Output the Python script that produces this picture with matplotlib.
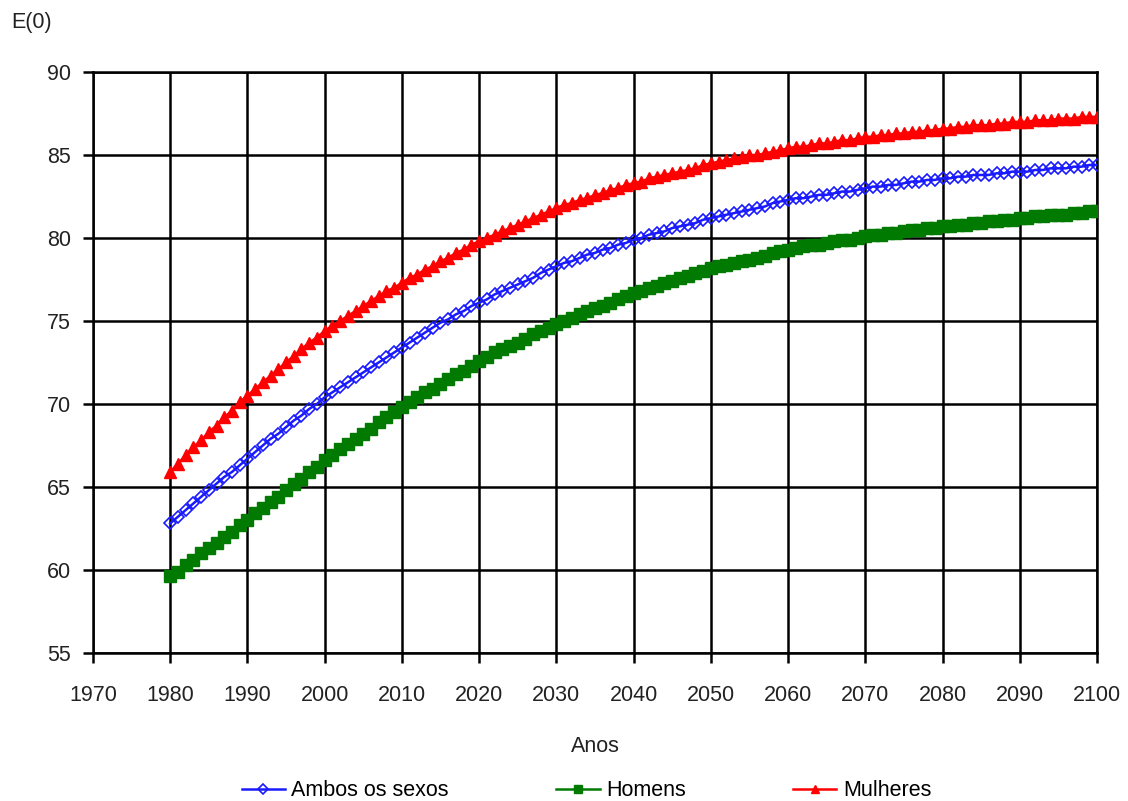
import matplotlib.pyplot as plt

# Esperança de vida ao nascer E(0), 1980-2100
anos = list(range(1980, 2101))

ambos = [62.8, 63.2, 63.6, 64.0, 64.4, 64.8, 65.2, 65.6, 65.9, 66.3,
         66.7, 67.1, 67.5, 67.9, 68.2, 68.6, 69.0, 69.3, 69.7, 70.0,
         70.4, 70.7, 71.0, 71.3, 71.6, 71.9, 72.2, 72.5, 72.8, 73.1,
         73.4, 73.7, 74.0, 74.3, 74.6, 74.9, 75.1, 75.4, 75.6, 75.9,
         76.1, 76.3, 76.6, 76.8, 77.0, 77.2, 77.4, 77.6, 77.9, 78.1,
         78.3, 78.5, 78.6, 78.8, 79.0, 79.1, 79.3, 79.4, 79.6, 79.7,
         79.9, 80.0, 80.2, 80.3, 80.4, 80.6, 80.7, 80.8, 80.9, 81.1,
         81.2, 81.3, 81.4, 81.5, 81.6, 81.7, 81.8, 81.9, 82.1, 82.2,
         82.3, 82.4, 82.4, 82.5, 82.6, 82.6, 82.7, 82.8, 82.8, 82.9,
         83.0, 83.1, 83.1, 83.2, 83.2, 83.3, 83.4, 83.4, 83.5, 83.5,
         83.6, 83.6, 83.7, 83.7, 83.8, 83.8, 83.8, 83.9, 83.9, 84.0,
         84.0, 84.0, 84.1, 84.1, 84.2, 84.2, 84.2, 84.3, 84.3, 84.4,
         84.4]

homens = [59.6, 59.9, 60.3, 60.6, 61.0, 61.3, 61.6, 62.0, 62.3, 62.7,
          63.0, 63.4, 63.7, 64.1, 64.4, 64.8, 65.2, 65.5, 65.9, 66.2,
          66.6, 66.9, 67.3, 67.6, 67.9, 68.2, 68.5, 68.9, 69.2, 69.5,
          69.8, 70.1, 70.4, 70.7, 70.9, 71.2, 71.5, 71.8, 72.0, 72.3,
          72.6, 72.8, 73.1, 73.3, 73.5, 73.7, 73.9, 74.2, 74.4, 74.6,
          74.8, 75.0, 75.2, 75.4, 75.6, 75.8, 75.9, 76.1, 76.3, 76.5,
          76.7, 76.8, 77.0, 77.1, 77.3, 77.4, 77.6, 77.7, 77.9, 78.0,
          78.2, 78.3, 78.4, 78.5, 78.6, 78.7, 78.8, 78.9, 79.1, 79.2,
          79.3, 79.4, 79.5, 79.6, 79.6, 79.7, 79.8, 79.9, 79.9, 80.0,
          80.1, 80.2, 80.2, 80.3, 80.3, 80.4, 80.5, 80.5, 80.6, 80.6,
          80.7, 80.7, 80.8, 80.8, 80.9, 80.9, 81.0, 81.0, 81.1, 81.1,
          81.2, 81.2, 81.3, 81.3, 81.4, 81.4, 81.4, 81.5, 81.5, 81.6,
          81.6]

mulheres = [65.9, 66.4, 66.9, 67.4, 67.8, 68.3, 68.7, 69.2, 69.6, 70.1,
            70.5, 70.9, 71.3, 71.7, 72.1, 72.5, 72.9, 73.3, 73.7, 74.0,
            74.4, 74.7, 75.0, 75.3, 75.6, 75.9, 76.2, 76.5, 76.8, 77.0,
            77.3, 77.6, 77.8, 78.1, 78.3, 78.6, 78.8, 79.1, 79.3, 79.6,
            79.8, 80.0, 80.2, 80.4, 80.6, 80.8, 81.0, 81.2, 81.4, 81.6,
            81.8, 82.0, 82.1, 82.3, 82.4, 82.6, 82.7, 82.9, 83.0, 83.2,
            83.3, 83.4, 83.6, 83.7, 83.8, 83.9, 84.0, 84.1, 84.2, 84.4,
            84.5, 84.6, 84.7, 84.8, 84.9, 85.0, 85.0, 85.1, 85.2, 85.3,
            85.4, 85.5, 85.5, 85.6, 85.7, 85.7, 85.8, 85.9, 85.9, 86.0,
            86.1, 86.1, 86.2, 86.2, 86.3, 86.3, 86.4, 86.4, 86.5, 86.5,
            86.6, 86.6, 86.7, 86.7, 86.8, 86.8, 86.8, 86.9, 86.9, 87.0,
            87.0, 87.0, 87.1, 87.1, 87.1, 87.2, 87.2, 87.2, 87.3, 87.3,
            87.3]

xticks = list(range(1970, 2101, 10))
yticks = list(range(55, 91, 5))

plt.rcParams['font.family'] = ['Liberation Sans', 'DejaVu Sans']

fig = plt.figure(figsize=(11.28, 8.01), dpi=100)
ax = fig.add_axes([0.0824, 0.185, 0.8901, 0.725])

ax.plot(anos, ambos, color='#1a1aff', lw=1.8, marker='D', ms=6.5,
        mfc='none', mec='#1a1aff', mew=1.2, label='Ambos os sexos', zorder=3)
ax.plot(anos, homens, color='#007a00', lw=1.8, marker='s', ms=8,
        mfc='#007a00', mec='#007a00', label='Homens', zorder=3)
ax.plot(anos, mulheres, color='#ff0000', lw=1.8, marker='^', ms=8,
        mfc='#ff0000', mec='#ff0000', label='Mulheres', zorder=3)

ax.set_xlim(1970, 2100)
ax.set_ylim(55, 90)
ax.set_xticks(xticks)
ax.set_yticks(yticks)
ax.grid(True, color='black', lw=1.8)
ax.set_axisbelow(True)
for s in ax.spines.values():
    s.set_linewidth(1.8)
ax.tick_params(axis='both', length=7, width=1.8, labelsize=15.5,
               labelcolor='#222222')
ax.tick_params(axis='x', pad=16)
ax.tick_params(axis='y', pad=9)

ax.set_xlabel('Anos', fontsize=15.5, color='#222222', labelpad=22)
fig.text(0.010, 0.972, 'E(0)', fontsize=15.5, color='#222222', va='center')

fig.legend(loc='center', bbox_to_anchor=(0.52, 0.013), ncol=3, frameon=False,
           fontsize=15.5, columnspacing=5.0, handlelength=2.0,
           handletextpad=0.3, markerscale=0.8)

fig.savefig('out.png', dpi=100)
